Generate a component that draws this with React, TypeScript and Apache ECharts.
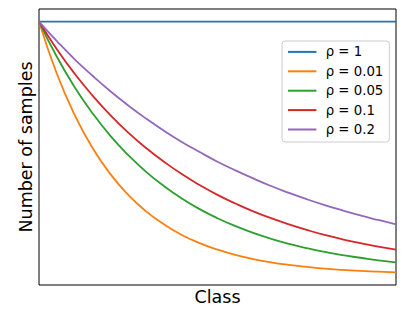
import React, { useEffect, useRef } from "react";
import * as echarts from "echarts";

const classes = [0, 1, 2, 3, 4, 5, 6, 7, 8, 9, 10, 11, 12, 13, 14, 15, 16, 17, 18, 19, 20];
const seriesNames = ["ρ = 1", "ρ = 0.01", "ρ = 0.05", "ρ = 0.1", "ρ = 0.2"];
const rho1 = [1, 1, 1, 1, 1, 1, 1, 1, 1, 1, 1, 1, 1, 1, 1, 1, 1, 1, 1, 1, 1];
const rho001 = [1, 0.794, 0.631, 0.501, 0.398, 0.316, 0.251, 0.2, 0.158, 0.126, 0.1, 0.079, 0.063, 0.05, 0.04, 0.032, 0.025, 0.02, 0.016, 0.013, 0.01];
const rho005 = [1, 0.861, 0.741, 0.638, 0.549, 0.473, 0.407, 0.351, 0.302, 0.26, 0.224, 0.193, 0.166, 0.143, 0.123, 0.106, 0.091, 0.078, 0.068, 0.058, 0.05];
const rho01 = [1, 0.891, 0.794, 0.708, 0.631, 0.562, 0.501, 0.447, 0.398, 0.355, 0.316, 0.282, 0.251, 0.224, 0.2, 0.178, 0.158, 0.141, 0.126, 0.112, 0.1];
const rho02 = [1, 0.923, 0.851, 0.786, 0.725, 0.669, 0.617, 0.569, 0.525, 0.485, 0.447, 0.413, 0.381, 0.351, 0.324, 0.299, 0.276, 0.255, 0.235, 0.217, 0.2];
const allValues = [rho1, rho001, rho005, rho01, rho02];
const colors = ["#1f77b4", "#ff7f0e", "#2ca02c", "#d62728", "#9467bd"];

const FONT = "DejaVu Sans";

export default function App() {
  const ref = useRef<HTMLDivElement>(null);
  useEffect(() => {
    if (!ref.current) return;
    const chart = echarts.init(ref.current, undefined, { renderer: "svg" });
    chart.setOption({
      animation: false,
      backgroundColor: "#fff",
      grid: {
        left: 39,
        right: 19,
        top: 9,
        bottom: 25,
        show: true,
        borderColor: "#000",
        borderWidth: 1,
        backgroundColor: "transparent",
      },
      xAxis: {
        type: "value",
        min: 0,
        max: 20,
        axisLine: { show: false },
        axisTick: { show: false },
        axisLabel: { show: false },
        splitLine: { show: false },
        name: "Class",
        nameLocation: "middle",
        nameGap: 3,
        nameTextStyle: { fontFamily: FONT, fontSize: 17.5, color: "#000", verticalAlign: "top" },
      },
      yAxis: {
        type: "value",
        min: -0.0395,
        max: 1.0495,
        axisLine: { show: false },
        axisTick: { show: false },
        axisLabel: { show: false },
        splitLine: { show: false },
        name: "Number of samples",
        nameLocation: "middle",
        nameGap: 4,
        nameTextStyle: { fontFamily: FONT, fontSize: 17.5, color: "#000" },
      },
      legend: {
        orient: "vertical",
        left: 282,
        top: 41,
        padding: [4.4, 6, 6, 5],
        itemWidth: 28.4,
        itemHeight: 13,
        itemGap: 6.4,
        backgroundColor: "rgba(255,255,255,0.8)",
        borderColor: "#cccccc",
        borderWidth: 1,
        borderRadius: 3,
        itemStyle: { opacity: 0 },
        formatter: (name: string) => `{s|}{t|${name}}`,
        textStyle: {
          rich: {
            s: { width: 4.3 },
            t: { fontFamily: FONT, fontSize: 13.3, color: "#000" },
          },
        },
        data: seriesNames,
      },
      series: allValues.map((vals, i) => ({
        name: seriesNames[i],
        type: "line",
        data: classes.map((c, j) => [c, vals[j]]),
        symbol: "none",
        smooth: 0.5,
        lineStyle: { color: colors[i], width: 1.8 },
        itemStyle: { color: colors[i] },
        z: 2,
      })),
    });
    return () => chart.dispose();
  }, []);
  return (
    <div
      ref={ref}
      style={{ position: "fixed", left: 0, top: 0, width: 415, height: 311 }}
    />
  );
}
